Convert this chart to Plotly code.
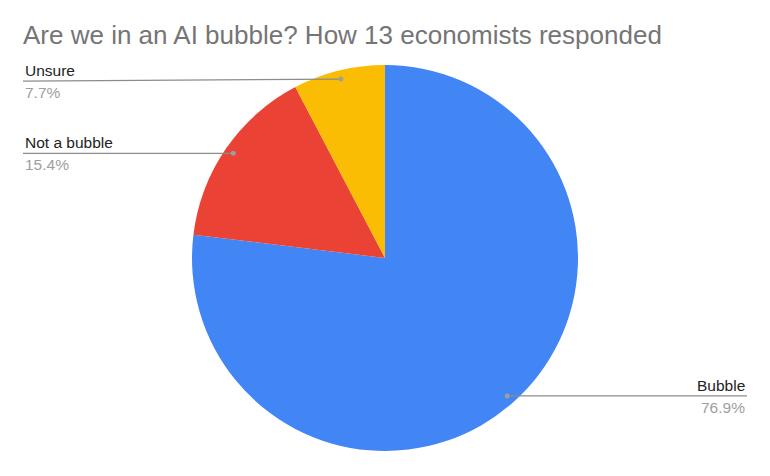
import math
import plotly.graph_objects as go

labels = ["Bubble", "Not a bubble", "Unsure"]
values = [10, 2, 1]
colors = ["#4285F4", "#EA4335", "#FBBC04"]
title = "Are we in an AI bubble? How 13 economists responded"

W, H = 770, 476
OFF = 8  # page body margin offset
cx, cy, R = 385, 258, 193  # pie geometry in pixels (page coords)
FONT = "Liberation Sans, Arial, Helvetica, sans-serif"

def px(x):
    return (x - OFF) / W

def py(y):
    return 1 - (y - OFF) / H

fig = go.Figure(go.Pie(
    labels=labels, values=values, sort=False, direction="clockwise", rotation=0,
    marker=dict(colors=colors, line=dict(width=0)),
    textinfo="none", hoverinfo="label+percent", showlegend=False,
    domain=dict(x=[px(cx - R), px(cx + R)], y=[py(cy + R), py(cy - R)]),
))

shapes = []
annotations = []
total = sum(values)
cum = 0
for lab, v in zip(labels, values):
    mid = (cum + v / 2) / total * 2 * math.pi
    cum += v
    dx, dy = cx + 0.955 * R * math.sin(mid), cy - 0.955 * R * math.cos(mid)
    right = math.sin(mid) > 0
    ly = dy + (2 if lab == "Unsure" else 0)
    x_end = 747 if right else 23
    shapes.append(dict(type="line", xref="paper", yref="paper",
                       x0=px(dx), y0=py(dy), x1=px(x_end), y1=py(ly),
                       line=dict(color="#8c8c8c", width=1.3)))
    shapes.append(dict(type="circle", xref="paper", yref="paper",
                       x0=px(dx - 2.5), x1=px(dx + 2.5), y0=py(dy + 2.5), y1=py(dy - 2.5),
                       fillcolor="#9e9e9e", line=dict(width=0)))
    anchor = "right" if right else "left"
    annotations.append(dict(text=lab, xref="paper", yref="paper", x=px(x_end), y=py(ly),
                            xanchor=anchor, yanchor="bottom", showarrow=False,
                            font=dict(family=FONT, size=15.5, color="#222222")))
    annotations.append(dict(text=f"{v / total * 100:.1f}%", xref="paper", yref="paper",
                            x=px(x_end), y=py(ly + 1), xanchor=anchor, yanchor="top",
                            showarrow=False,
                            font=dict(family=FONT, size=15.5, color="#9e9e9e")))

annotations.append(dict(text=title, xref="paper", yref="paper", x=px(21), y=py(52),
                        xanchor="left", yanchor="bottom", showarrow=False,
                        font=dict(family=FONT, size=26, color="#757575")))

fig.update_layout(
    width=W, height=H, margin=dict(l=0, r=0, t=0, b=0),
    paper_bgcolor="white", plot_bgcolor="white",
    shapes=shapes, annotations=annotations,
)
fig.write_html("out.html")
